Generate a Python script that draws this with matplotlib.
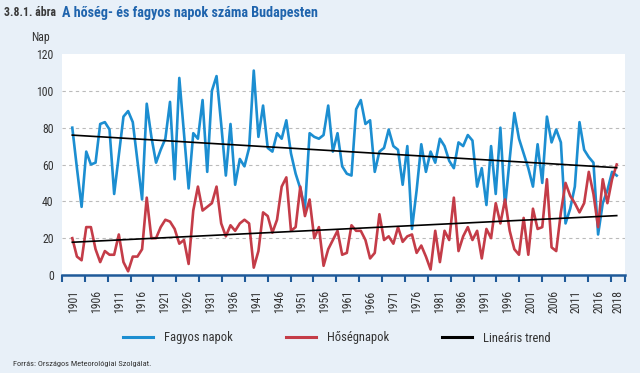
import numpy as np
import matplotlib
matplotlib.use("Agg")
import matplotlib.pyplot as plt
from matplotlib.ticker import FixedLocator

plt.rcParams['font.family'] = ['Liberation Sans Narrow', 'Roboto Condensed', 'DejaVu Sans']

years = list(range(1901, 2019))

fagyos = [80, 58, 37, 67, 60, 61, 82, 83, 79, 44,
          65, 86, 89, 83, 62, 41, 93, 75, 61, 68,
          74, 94, 52, 107, 77, 47, 77, 74, 95, 56,
          100, 108, 82, 54, 82, 49, 63, 59, 69, 111,
          75, 92, 69, 67, 77, 74, 84, 66, 55, 47,
          36, 77, 75, 74, 76, 92, 67, 77, 59, 55,
          54, 90, 95, 82, 84, 56, 67, 69, 79, 70,
          68, 49, 70, 25, 46, 71, 56, 67, 61, 74,
          70, 62, 58, 72, 70, 76, 73, 48, 58, 38,
          70, 44, 80, 37, 63, 88, 74, 66, 58, 48,
          71, 50, 86, 72, 79, 72, 28, 36, 48, 83,
          68, 64, 61, 22, 39, 46, 56, 54]

hoseg = [20, 10, 8, 26, 26, 14, 7, 13, 11, 11,
         22, 7, 2, 10, 10, 14, 42, 20, 20, 26,
         30, 29, 25, 17, 19, 6, 35, 48, 35, 37,
         39, 48, 28, 21, 27, 24, 28, 30, 28, 4,
         13, 34, 32, 23, 30, 48, 53, 24, 26, 48,
         32, 41, 20, 26, 5, 14, 19, 24, 11, 12,
         27, 24, 24, 19, 9, 12, 33, 19, 21, 17,
         26, 18, 21, 22, 12, 16, 10, 3, 24, 7,
         24, 19, 42, 13, 21, 26, 19, 24, 9, 25,
         20, 39, 28, 41, 24, 14, 11, 31, 11, 36,
         25, 26, 52, 15, 13, 34, 50, 43, 39, 34,
         39, 56, 44, 26, 52, 39, 52, 60]

tick_labels = [str(y) for y in range(1901, 2017, 5)] + ['2018']
yticks = [0, 20, 40, 60, 80, 100, 120]

series_names = ['Fagyos napok', 'Hőségnapok', 'Lineáris trend']

BLUE = '#1C8ED1'
RED = '#C43C48'
AXBLUE = '#1F5A99'
BG = '#E8F0F8'

yrs = np.array(years, dtype=float)
fa = np.array(fagyos, dtype=float)
ho = np.array(hoseg, dtype=float)

fig = plt.figure(figsize=(6.4, 3.73), dpi=100, facecolor=BG)
ax = fig.add_axes([62/640, 1-275/373, (625-62)/640, (275-54)/373])
ax.set_facecolor('white')

l1, = ax.plot(yrs, fa, color=BLUE, lw=1.9, solid_joinstyle='round', zorder=3, label=series_names[0])
l2, = ax.plot(yrs, ho, color=RED, lw=1.9, solid_joinstyle='round', zorder=3, label=series_names[1])
pf = np.polyfit(yrs, fa, 1)
ph = np.polyfit(yrs, ho, 1)
l3, = ax.plot(yrs[[0, -1]], np.polyval(pf, yrs[[0, -1]]), color='black', lw=1.2, zorder=4, label=series_names[2])
ax.plot(yrs[[0, -1]], np.polyval(ph, yrs[[0, -1]]), color='black', lw=1.2, zorder=4)

for g in yticks[1:-1]:
    ax.axhline(g, color='#BBBBBB', lw=0.8, ls=(0, (3, 3)), zorder=1)

ax.set_ylim(0, 120)
ax.set_yticks(yticks)
ax.tick_params(axis='y', length=0, pad=6, labelsize=8.5, labelcolor='#333333')

xl, xr = 1898.79, 2019.78
ax.set_xlim(xl, xr)
step = 4.913
bounds = [xl + k*step for k in range(25)] + [xr]
mids = [(bounds[i] + bounds[i+1]) / 2 for i in range(len(bounds)-1)]
ax.xaxis.set_major_locator(FixedLocator(mids))
ax.set_xticklabels(tick_labels)
ax.xaxis.set_minor_locator(FixedLocator(bounds))
ax.tick_params(axis='x', which='major', length=0, pad=11, labelsize=8.5, labelrotation=90, labelcolor='#333333')
ax.tick_params(axis='x', which='minor', length=5, width=1.5, color=AXBLUE, direction='out')

for s in ['top', 'right', 'left']:
    ax.spines[s].set_visible(False)
ax.spines['bottom'].set_color(AXBLUE)
ax.spines['bottom'].set_linewidth(1.8)

fig.text(4/640, 1-13/373, '3.8.1. ábra', fontsize=8.5, fontweight='bold', color='#3A3A3A', va='center', ha='left')
fig.text(62/640, 1-13/373, 'A hőség- és fagyos napok száma Budapesten', fontsize=10.2, fontweight='bold',
         color='#1F64AD', va='center', ha='left')
fig.text(40/640, 1-37/373, 'Nap', fontsize=8.5, color='#333333', va='center', ha='center')
fig.text(13/640, 1-364/373, 'Forrás: Országos Meteorológiai Szolgálat.', fontsize=6, color='#333333',
         va='center', ha='left')

leg = fig.legend(handles=[l1, l2, l3], loc='center', bbox_to_anchor=(337/640, 1-338/373), ncol=3,
                 frameon=False, fontsize=9, handlelength=2.4, handletextpad=0.9, columnspacing=4.2)
for t in leg.get_texts():
    t.set_color('#333333')
for h in leg.legend_handles:
    h.set_linewidth(2.2)

fig.savefig('out.png', dpi=100, facecolor=BG)
